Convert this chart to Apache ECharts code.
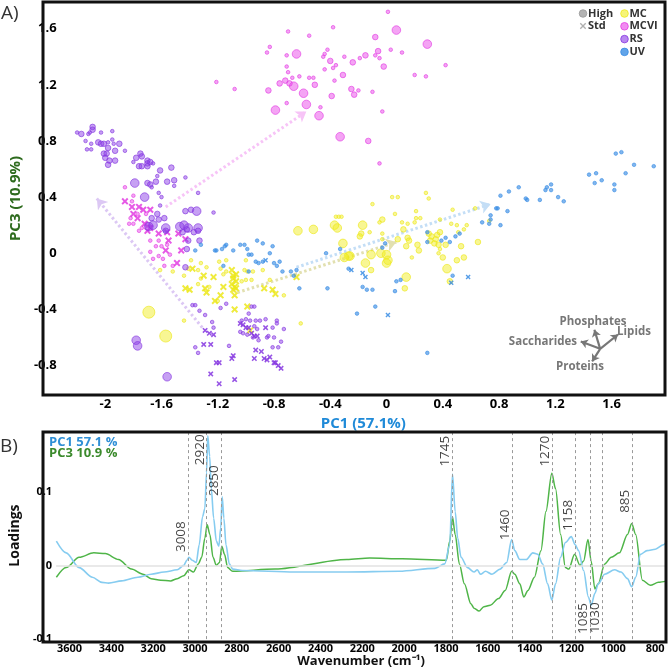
<!DOCTYPE html>
<html>
<head>
<meta charset="utf-8">
<script src="https://cdn.jsdelivr.net/npm/echarts@6/dist/echarts.min.js"></script>
<style>
html, body { margin: 0; padding: 0; background: #ffffff; }
#box { width: 669px; height: 669px; }
</style>
</head>
<body>
<div id="box"></div>
<script>
// ---------- A) PCA scores: [PC1, PC3, size class] ----------
const mcHigh = [[-1.69,-0.42,4],[-1.57,-0.59,4],[-1.44,-0.48,1],[-1.39,-0.05,1],[-1.41,-0.11,1],[-1.34,-0.12,1],[-1.32,-0.07,1],[-1.28,-0.10,1],[-1.44,-0.16,1],[-1.61,-0.12,1],[-1.52,-0.13,1],[-1.32,-0.18,1],[-1.34,-0.22,1],[-1.26,-0.24,1],[-1.19,-0.06,1],[-1.14,-0.05,1],[-1.18,-0.11,1],[-1.00,-0.05,1],[-1.14,-0.13,1],[-1.16,-0.15,1],[-1.01,-0.12,1],[-0.99,-0.13,1],[-0.95,-0.13,1],[-0.88,-0.12,1],[-1.20,-0.34,1],[-1.03,-0.20,1],[-1.00,-0.19,1],[-0.96,-0.19,1],[-0.83,-0.19,1],[-0.73,-0.30,1],[-0.61,-0.50,1],[-0.63,0.16,3],[-0.52,0.17,3],[-0.37,0.20,3],[-0.35,0.18,3],[-0.36,0.26,1],[-0.34,0.26,1],[-0.32,0.26,1],[-0.31,0.07,3],[-0.27,-0.02,3],[-0.17,0.20,3],[-0.18,0.14,2],[-0.19,0.12,2],[-0.26,-0.02,3],[-0.30,-0.03,3],[-0.15,-0.07,3],[-0.11,-0.01,3],[-0.04,0.00,3],[0.00,-0.01,3],[0.01,-0.05,3],[0.00,-0.07,3],[-0.11,-0.12,2],[0.14,-0.17,3],[0.13,-0.25,2],[-0.03,0.24,2],[-0.10,0.35,1],[0.04,0.40,1],[0.08,0.40,1],[0.06,0.28,1],[-0.05,0.22,1],[0.11,0.22,1],[0.15,0.21,1],[0.20,0.22,1],[0.21,0.25,1],[0.12,0.17,2],[-0.12,0.15,1],[-0.03,0.14,1],[-0.03,0.10,1],[0.08,0.10,2],[0.15,0.11,2],[0.16,0.09,2],[0.14,0.05,2],[0.22,0.06,2],[0.23,0.02,2],[0.18,-0.03,1],[0.21,0.30,1],[0.24,0.25,1],[0.28,0.43,1],[0.30,0.39,1],[0.38,0.24,1],[0.30,0.14,2],[0.32,0.12,2],[0.35,0.10,2],[0.36,0.13,2],[0.38,0.15,2],[0.31,0.09,2],[0.34,0.07,2],[0.37,0.06,2],[0.42,0.06,2],[0.38,0.03,1],[0.37,0.00,1],[0.40,-0.03,2],[0.47,0.31,1],[0.46,0.21,1],[0.50,0.20,1],[0.51,0.15,1],[0.55,0.17,1],[0.57,0.20,1],[0.53,0.05,2],[0.55,-0.03,2],[0.50,-0.05,2],[0.43,-0.11,3],[0.45,-0.20,2],[0.65,0.08,2],[0.63,0.32,1],[0.73,0.23,1]];
const mcStd = [[-1.38,-0.11],[-1.30,-0.16],[-1.43,-0.25],[-1.40,-0.26],[-1.29,-0.25],[-1.28,-0.28],[-1.22,-0.34],[-1.10,-0.12],[-1.09,-0.16],[-1.07,-0.15],[-1.09,-0.18],[-1.07,-0.20],[-1.10,-0.22],[-1.23,-0.17],[-1.16,-0.24],[-1.08,-0.24],[-1.07,-0.25],[-1.09,-0.26],[-1.18,-0.30],[-1.08,-0.30],[-0.87,-0.25],[-0.81,-0.26],[-0.79,-0.29],[-0.64,-0.17],[-1.08,-0.40],[-0.99,-0.38],[-0.97,-0.55]];
const mcviHigh = [[0.01,1.72,1],[0.07,1.59,3],[0.29,1.49,3],[-0.70,1.58,1],[-0.55,1.55,1],[-0.38,1.61,1],[-0.08,1.54,2],[-0.83,1.47,1],[-0.85,1.43,1],[-0.64,1.42,3],[-0.71,1.41,1],[-0.44,1.42,1],[-0.45,1.40,1],[-0.42,1.45,1],[-0.30,1.40,1],[-0.15,1.41,2],[-0.06,1.44,2],[0.03,1.45,1],[0.11,1.43,1],[-0.08,1.41,1],[-0.05,1.39,1],[-0.19,1.39,1],[-0.24,1.36,2],[-0.40,1.37,2],[-0.36,1.34,1],[-0.38,1.32,1],[-0.44,1.31,1],[-0.02,1.33,2],[0.42,1.34,1],[0.20,1.27,1],[0.28,1.26,1],[-0.71,1.33,1],[-0.70,1.29,1],[-0.67,1.25,1],[-0.62,1.26,1],[-0.55,1.25,1],[-0.52,1.25,1],[-0.31,1.27,2],[-0.37,1.23,1],[-0.72,1.23,2],[-0.76,1.21,2],[-0.69,1.21,2],[-0.66,1.19,3],[-0.51,1.20,2],[-1.21,1.22,1],[-1.08,1.17,1],[-0.84,1.16,2],[-0.59,1.14,3],[-0.25,1.17,2],[-0.20,1.16,1],[-0.23,1.13,2],[-0.10,1.15,1],[-0.39,1.12,2],[-0.71,1.07,1],[-0.57,1.06,3],[-0.79,1.02,3],[-0.47,1.04,1],[-0.48,0.98,3],[-0.03,1.01,1],[-0.33,0.83,3],[-0.13,0.80,2],[-0.05,0.64,1],[-1.86,0.47,1],[-1.80,0.41,1],[-1.81,0.37,1],[-1.77,0.28,1],[-1.71,0.28,1],[-1.82,0.25,1],[-1.83,0.21,1],[-1.80,0.21,1],[-1.74,0.18,1],[-1.68,0.19,1],[-1.76,0.16,1],[-1.68,0.09,1],[-1.62,0.09,1],[-1.64,0.05,1],[-1.60,0.05,1],[-1.56,0.06,1],[-1.68,0.01,1],[-1.54,-0.01,1],[-1.62,-0.02,1],[-1.66,-0.04,1],[-1.59,-0.04,1],[-1.52,-0.09,1],[-1.58,-0.09,1],[-1.70,0.20,2]];
const mcviStd = [[-1.86,0.37],[-1.81,0.33],[-1.76,0.33],[-1.73,0.31],[-1.68,0.31],[-1.80,0.28],[-1.77,0.25],[-1.72,0.21],[-1.70,0.16],[-1.68,0.18],[-1.62,0.14],[-1.55,0.09],[-1.56,0.15],[-1.48,0.14],[-1.57,0.02],[-1.46,0.02],[-1.43,0.10],[-1.49,-0.07]];
const rsHigh = [[-2.20,0.86,1],[-2.17,0.85,2],[-2.12,0.85,1],[-2.11,0.86,1],[-2.09,0.90,2],[-2.09,0.88,2],[-2.03,0.86,1],[-1.95,0.87,1],[-2.14,0.80,1],[-2.10,0.78,1],[-2.13,0.74,1],[-2.10,0.74,1],[-2.05,0.79,2],[-2.03,0.78,2],[-2.01,0.78,2],[-1.98,0.79,1],[-1.95,0.81,1],[-1.94,0.78,1],[-1.90,0.78,2],[-1.98,0.75,2],[-2.01,0.71,2],[-1.99,0.71,2],[-1.93,0.73,2],[-1.86,0.73,1],[-2.00,0.68,2],[-1.97,0.66,2],[-1.93,0.66,2],[-1.98,0.63,2],[-1.75,0.71,2],[-1.74,0.69,2],[-1.78,0.68,2],[-1.70,0.66,2],[-1.68,0.65,2],[-1.70,0.64,2],[-1.66,0.64,1],[-1.80,0.65,1],[-1.76,0.62,2],[-1.74,0.62,2],[-1.70,0.62,2],[-1.61,0.59,2],[-1.53,0.61,2],[-1.63,0.55,1],[-1.79,0.50,3],[-1.70,0.50,2],[-1.68,0.49,2],[-1.64,0.51,2],[-1.56,0.51,2],[-1.51,0.52,2],[-1.43,0.54,1],[-1.67,0.47,1],[-1.51,0.48,1],[-1.62,0.43,1],[-1.72,0.40,3],[-1.60,0.40,1],[-1.34,0.43,1],[-1.61,0.34,1],[-1.43,0.30,2],[-1.39,0.31,2],[-1.35,0.30,3],[-1.23,0.29,1],[-1.63,0.28,2],[-1.62,0.24,2],[-1.67,0.25,2],[-1.58,0.25,2],[-1.69,0.19,3],[-1.66,0.20,3],[-1.57,0.18,3],[-1.47,0.19,3],[-1.44,0.20,3],[-1.41,0.18,3],[-1.34,0.18,3],[-1.57,0.16,2],[-1.45,0.15,2],[-1.42,0.17,2],[-1.37,0.15,2],[-1.34,0.16,2],[-1.41,0.09,2],[-1.33,0.09,2],[-1.42,0.03,2],[-1.43,-0.10,2],[-1.78,-0.62,3],[-1.77,-0.66,3],[-1.56,-0.88,3],[-1.14,-0.36,1],[-1.18,-0.39,1],[-0.96,-0.38,1],[-0.94,-0.38,1],[-0.98,-0.43,1],[-1.00,-0.47,1],[-1.03,-0.48,1],[-0.97,-0.48,1],[-0.93,-0.48,1],[-0.90,-0.48,1],[-0.86,-0.47,1],[-0.78,-0.48,1],[-0.78,-0.50,1],[-0.94,-0.52,1],[-0.92,-0.54,1],[-0.81,-0.53,1],[-0.73,-0.54,1],[-1.04,-0.56,1],[-1.02,-0.57,1],[-0.99,-0.58,1],[-0.85,-0.60,1],[-0.84,-0.59,1],[-0.80,-0.60,1],[-0.91,-0.62,1],[-0.95,-0.60,1],[-0.75,-0.63,1],[-0.77,-0.67,1],[-1.12,-0.66,1],[-0.81,-0.67,1],[-1.38,-0.37,1],[-1.36,-0.37,1],[-1.33,-0.41,1],[-1.29,-0.44,1],[-1.24,-0.49,1],[-1.23,-0.53,1],[-1.36,-0.67,1],[-1.34,-0.71,1]];
const rsStd = [[-1.04,-0.50],[-1.02,-0.51],[-1.00,-0.53],[-0.98,-0.53],[-0.86,-0.53],[-0.96,-0.57],[-0.94,-0.59],[-0.92,-0.59],[-0.93,-0.69],[-0.89,-0.70],[-1.09,-0.73],[-1.10,-0.75],[-0.94,-0.75],[-0.87,-0.75],[-0.85,-0.76],[-0.83,-0.74],[-0.80,-0.78],[-0.79,-0.78],[-0.77,-0.80],[-0.75,-0.82],[-1.19,-0.78],[-1.08,-0.90],[-1.19,-0.93],[-1.29,-0.55],[-1.26,-0.57],[-1.23,-0.58],[-1.30,-0.65],[-1.25,-0.65],[-1.21,-0.78],[-1.25,-0.86]];
const uvHigh = [[-1.14,0.06,1],[-1.15,0.05,1],[-1.04,0.06,1],[-1.01,0.06,1],[-0.99,0.03,1],[-0.92,0.09,1],[-0.88,0.07,1],[-0.81,0.05,1],[-1.22,0.02,1],[-1.17,0.03,1],[-1.09,0.02,1],[-0.98,-0.01,1],[-0.96,-0.01,1],[-0.83,0.00,1],[-0.93,-0.06,1],[-0.91,-0.07,1],[-0.88,-0.06,1],[-0.80,-0.07,1],[-0.76,-0.06,1],[-0.78,-0.09,1],[-0.74,-0.13,1],[-0.68,-0.13,1],[-0.66,-0.16,1],[-0.62,-0.25,1],[-0.42,-0.25,1],[-0.43,0.00,1],[-0.27,-0.11,1],[-0.98,-0.13,1],[-1.16,-0.09,1],[-1.36,0.02,1],[-1.32,0.06,1],[-1.21,0.02,1],[-0.33,0.03,1],[-0.17,-0.24,1],[-0.14,-0.26,1],[-0.10,-0.26,1],[0.07,-0.20,1],[0.10,-0.19,1],[0.06,-0.27,1],[-0.08,-0.38,1],[-0.21,-0.43,1],[-0.01,0.07,1],[-0.03,0.04,1],[0.29,0.15,1],[0.29,0.08,1],[0.39,0.09,1],[0.42,0.11,1],[0.45,0.08,1],[0.49,0.12,1],[0.52,0.14,1],[0.47,-0.16,1],[0.68,0.22,1],[0.73,0.21,1],[0.74,0.24,1],[0.81,0.20,1],[0.74,0.27,1],[0.79,0.32,1],[0.81,0.41,1],[0.78,0.32,1],[0.86,0.30,1],[0.87,0.44,1],[0.94,0.47,1],[0.99,0.39,1],[1.00,0.38,1],[1.09,0.38,1],[1.13,0.45,1],[1.14,0.47,1],[1.17,0.49,1],[1.17,0.45,1],[1.22,0.40,1],[1.26,0.37,1],[1.44,0.56,1],[1.49,0.57,1],[1.48,0.50,1],[1.53,0.52,1],[1.62,0.49,1],[1.62,0.45,1],[1.70,0.57,1],[1.63,0.71,1],[1.67,0.72,1],[1.76,0.63,1],[1.90,0.62,1],[0.29,-0.71,1],[-0.64,-0.12,1]];
const uvStd = [[-0.86,-0.05],[-0.25,-0.12],[-0.17,-0.14],[-0.15,-0.17],[0.01,-0.44],[0.58,-0.17],[0.46,-0.21]];

// group shift vectors (start -> end), in score units
const vecMC = [[-1.06,-0.28],[0.07,0.08]];
const vecMCVI = [[-1.57,0.33],[-0.57,1.01]];
const vecRS = [[-1.31,-0.53],[-2.06,0.39]];
const vecUV = [[-0.64,-0.10],[0.74,0.35]];

// loading directions of the inset (tail, head)
const bioNames = ["Phosphates", "Lipids", "Saccharides", "Proteins"];
const bioTail = [1.519,-0.681];
const bioHeads = [[1.478,-0.545],[1.646,-0.579],[1.381,-0.629],[1.462,-0.771]];

const pcXTicks = [-2, -1.6, -1.2, -0.8, -0.4, 0, 0.4, 0.8, 1.2, 1.6];
const pcYTicks = [-0.8, -0.4, 0, 0.4, 0.8, 1.2, 1.6];

// ---------- B) loadings ----------
const wn1 = [3639,3592,3530,3467,3421,3389,3327,3249,3186,3124,3061,3030,3015,3005,2990,2970,2956,2940,2929,2921,2915,2906,2898,2887,2874,2862,2853,2846,2838,2828,2812,2796,2750,2500,2250,2000,1829,1782,1758,1745,1732,1720,1704,1673,1642,1626,1611,1587,1556,1517,1486,1462,1447,1423,1392,1361,1337,1314,1290,1270,1252,1228,1205,1177,1158,1142,1118,1095,1082,1064,1048,1017,970,939,908,888,869,846,815,775,736,721];
const pc1 = [0.033,0.017,-0.003,-0.016,-0.023,-0.024,-0.021,-0.016,-0.012,-0.009,-0.006,0.000,0.007,0.011,0.007,0.004,0.028,0.066,0.077,0.126,0.176,0.148,0.104,0.064,0.033,0.026,0.051,0.093,0.064,0.028,0.002,-0.005,-0.007,-0.009,-0.009,-0.008,-0.004,0.002,0.028,0.124,0.073,0.037,0.011,-0.003,-0.009,-0.006,-0.012,-0.008,-0.012,-0.005,0.004,0.035,0.020,0.008,0.008,0.017,0.015,0.002,-0.025,-0.047,-0.025,0.011,0.031,0.039,0.028,0.020,-0.007,-0.043,-0.054,-0.038,-0.025,-0.012,-0.006,-0.009,-0.018,-0.029,-0.016,0.015,0.020,0.022,0.028,0.033];
const wn3 = [3639,3592,3530,3460,3405,3342,3280,3225,3186,3140,3093,3061,3030,3005,2984,2960,2944,2929,2918,2905,2890,2874,2859,2848,2835,2820,2796,2593,2250,2141,1985,1774,1758,1745,1732,1712,1688,1657,1642,1618,1595,1564,1525,1493,1462,1447,1423,1404,1384,1353,1322,1298,1270,1252,1228,1205,1189,1161,1135,1118,1097,1082,1064,1048,1017,986,947,908,888,869,837,799,760,721];
const pc3 = [-0.016,-0.003,0.011,0.017,0.016,0.008,-0.005,-0.012,-0.018,-0.020,-0.021,-0.018,-0.014,-0.006,-0.009,0.002,0.011,0.037,0.055,0.042,0.011,0.000,0.004,0.026,0.015,-0.003,-0.008,-0.005,0.008,0.010,0.009,0.007,0.033,0.066,0.042,0.002,-0.025,-0.052,-0.058,-0.062,-0.056,-0.054,-0.045,-0.034,-0.008,-0.012,-0.025,-0.043,-0.034,-0.016,0.020,0.073,0.125,0.104,0.042,-0.003,-0.005,0.015,0.000,0.006,0.035,0.006,-0.032,-0.025,0.002,0.011,0.017,0.042,0.057,0.042,-0.020,-0.027,-0.023,-0.021];
const peaks = [3008, 2920, 2850, 1745, 1460, 1270, 1158, 1085, 1030, 885];
const wnTicks = [3600,3400,3200,3000,2800,2600,2400,2200,2000,1800,1600,1400,1200,1000,800];
const loadTicks = [-0.1, 0, 0.1];

// ---------- chart ----------
const FONT = '"Open Sans", sans-serif';
const peakLabelY = [0.039, 0.157, 0.115, 0.155, 0.055, 0.155, 0.068, -0.072, -0.071, 0.087];
const dotSize = { 1: 3.6, 2: 5.6, 3: 8.6, 4: 12 };
const crossPath = "path://M2,0 L5,3 L8,0 L10,2 L7,5 L10,8 L8,10 L5,7 L2,10 L0,8 L3,5 L0,2 Z";

const groups = [
	{ name: "MC", c: "#ece81a", fill: "rgba(240,236,30,0.6)", high: mcHigh, std: mcStd, cross: 7, vec: vecMC, vc: "#e2e0b0" },
	{ name: "MCVI", c: "#e23ce2", fill: "rgba(232,70,232,0.62)", high: mcviHigh, std: mcviStd, cross: 7, vec: vecMCVI, vc: "#f7c4f7" },
	{ name: "RS", c: "#8536e0", fill: "rgba(140,62,230,0.62)", high: rsHigh, std: rsStd, cross: 5.5, vec: vecRS, vc: "#dcc8f4" },
	{ name: "UV", c: "#3a8de4", fill: "rgba(58,141,228,0.8)", high: uvHigh, std: uvStd, cross: 5, vec: vecUV, vc: "#c4def6" },
]

let myCharts = echarts.init(document.getElementById("box"))

let series = []
// group vectors under the points
series.push({
	type: "lines",
	coordinateSystem: "cartesian2d",
	xAxisIndex: 0,
	yAxisIndex: 0,
	symbol: ["none", "arrow"],
	symbolSize: 10,
	lineStyle: { type: [2.5, 2.5], width: 3, opacity: 1 },
	data: groups.map((g) => ({ coords: g.vec, lineStyle: { color: g.vc } })),
	z: 1,
})
groups.forEach((g) => {
	series.push({
		name: g.name + " High",
		type: "scatter",
		xAxisIndex: 0,
		yAxisIndex: 0,
		data: g.high,
		symbol: "circle",
		symbolSize: (v) => dotSize[v[2]],
		itemStyle: { color: g.fill, borderColor: g.c, borderWidth: 0.8 },
		z: 3,
	})
	series.push({
		name: g.name + " Std",
		type: "scatter",
		xAxisIndex: 0,
		yAxisIndex: 0,
		data: g.std,
		symbol: crossPath,
		symbolSize: g.cross,
		itemStyle: { color: g.c, opacity: 0.85 },
		z: 3,
	})
})
// loading directions inset
series.push({
	type: "lines",
	coordinateSystem: "cartesian2d",
	xAxisIndex: 0,
	yAxisIndex: 0,
	symbol: ["none", "arrow"],
	symbolSize: 7,
	lineStyle: { color: "#777", width: 2.2, opacity: 1 },
	data: bioHeads.map((h) => ({ coords: [bioTail, h] })),
	z: 4,
})

// B) loadings
series.push({
	name: "PC3",
	type: "line",
	xAxisIndex: 1,
	yAxisIndex: 1,
	data: wn3.map((w, i) => [w, pc3[i]]),
	showSymbol: false,
	smooth: 0.3,
	smoothMonotone: "x",
	lineStyle: { color: "#4fb548", width: 1.5 },
	markLine: {
		silent: true,
		symbol: "none",
		label: { show: false },
		lineStyle: { color: "#e2e2e2", type: "solid", width: 1.5 },
		data: [{ yAxis: 0 }],
	},
	z: 3,
})
series.push({
	name: "PC1",
	type: "line",
	xAxisIndex: 1,
	yAxisIndex: 1,
	data: wn1.map((w, i) => [w, pc1[i]]),
	showSymbol: false,
	smooth: 0.3,
	smoothMonotone: "x",
	lineStyle: { color: "#86ccf0", width: 1.6 },
	markLine: {
		silent: true,
		symbol: "none",
		label: { show: false },
		lineStyle: { color: "#9a9a9a", type: [3, 3], width: 1 },
		data: peaks.map((p) => ({ xAxis: p })),
	},
	z: 4,
})
series.push({
	type: "scatter",
	xAxisIndex: 1,
	yAxisIndex: 1,
	symbolSize: 0,
	data: peaks.map((p, i) => [p, peakLabelY[i], String(p)]),
	label: {
		show: true,
		position: "inside",
		rotate: 90,
		offset: [0, -7],
		formatter: (p) => p.value[2],
		color: "#111",
		fontSize: 13.5,
		fontFamily: "Open Sans",
	},
	silent: true,
	z: 5,
})

const tickFont = { color: "#000", fontWeight: 700, fontFamily: FONT }
const plain = (v) => String(v)

// top-right legend built from shapes and texts
function cross(cx, cy, r, fill) {
	const t = r * 0.3
	return {
		type: "polygon",
		shape: {
			points: [
				[cx - r, cy - r + t], [cx - r + t, cy - r], [cx, cy - t], [cx + r - t, cy - r], [cx + r, cy - r + t], [cx + t, cy],
				[cx + r, cy + r - t], [cx + r - t, cy + r], [cx, cy + t], [cx - r + t, cy + r], [cx - r, cy + r - t], [cx - t, cy],
			],
		},
		style: { fill: fill },
	}
}
const legFont = "bold 11px " + FONT
let graphic = [
	{ type: "circle", shape: { cx: 583, cy: 13.5, r: 3.8 }, style: { fill: "#b4b4b4", stroke: "#999", lineWidth: 0.8 } },
	{ type: "text", x: 588, y: 13.5, style: { text: "High", font: legFont, fill: "#333", verticalAlign: "middle" } },
	cross(583, 26, 3.2, "#b0b0b0"),
	{ type: "text", x: 588, y: 26, style: { text: "Std", font: legFont, fill: "#333", verticalAlign: "middle" } },
]
groups.forEach((g, i) => {
	const y = 13.5 + i * 12.8
	graphic.push({ type: "circle", shape: { cx: 624.5, cy: y, r: 3.8 }, style: { fill: g.fill, stroke: g.c, lineWidth: 0.8 } })
	graphic.push({ type: "text", x: 629.5, y: y, style: { text: g.name, font: legFont, fill: "#333", verticalAlign: "middle" } })
})
const bioFont = "bold 11.5px " + FONT
graphic.push(
	{ type: "text", x: 593, y: 322, style: { text: bioNames[0], font: bioFont, fill: "#777", align: "center", verticalAlign: "middle" } },
	{ type: "text", x: 634, y: 332, style: { text: bioNames[1], font: bioFont, fill: "#777", align: "center", verticalAlign: "middle" } },
	{ type: "text", x: 577, y: 342, style: { text: bioNames[2], font: bioFont, fill: "#777", align: "right", verticalAlign: "middle" } },
	{ type: "text", x: 580, y: 367, style: { text: bioNames[3], font: bioFont, fill: "#777", align: "center", verticalAlign: "middle" } },
	{ type: "text", x: 1, y: 14, style: { text: "A)", font: "19px Open Sans", fill: "#333", verticalAlign: "middle" } },
	{ type: "text", x: 0, y: 447, style: { text: "B)", font: "19px Open Sans", fill: "#333", verticalAlign: "middle" } },
	{ type: "text", x: 49, y: 442, style: { text: "PC1 57.1 %", font: "bold 13px " + FONT, fill: "#2f8fd6", verticalAlign: "middle" } },
	{ type: "text", x: 49, y: 453, style: { text: "PC3 10.9 %", font: "bold 13px " + FONT, fill: "#3b8a2c", verticalAlign: "middle" } },
	// panel frames
	{ type: "rect", z: 100, shape: { x: 43, y: 2, width: 622, height: 393 }, style: { fill: null, stroke: "#111", lineWidth: 3 } },
	{ type: "rect", z: 100, shape: { x: 43, y: 432, width: 623, height: 210 }, style: { fill: null, stroke: "#111", lineWidth: 3 } }
)

let option = {
	animation: false,
	textStyle: { fontFamily: FONT },
	grid: [
		{ left: 43, right: 4, top: 2, bottom: 274 },
		{ left: 43, right: 3, top: 432, bottom: 27 },
	],
	xAxis: [
		{
			type: "value",
			gridIndex: 0,
			min: -2.31,
			max: 1.98,
			axisLine: { show: false },
			axisTick: { show: false },
			splitLine: { show: false },
			axisLabel: { ...tickFont, fontSize: 13, margin: 3, customValues: pcXTicks, formatter: plain },
			name: "PC1 (57.1%)",
			nameLocation: "middle",
			nameGap: 13,
			nameTextStyle: { color: "#1f8ad8", fontWeight: "bold", fontSize: 15, fontFamily: FONT },
		},
		{
			type: "value",
			gridIndex: 1,
			min: 724,
			max: 3640,
			inverse: true,
			axisLine: { show: false },
			axisTick: { show: false },
			splitLine: { show: false },
			axisLabel: { ...tickFont, fontSize: 11, margin: 4, padding: [0, 0, 0, 10], customValues: wnTicks, formatter: plain },
			name: "Wavenumber (cm⁻¹)",
			nameLocation: "middle",
			nameGap: 15,
			nameTextStyle: { color: "#111", fontWeight: "bold", fontSize: 13, fontFamily: FONT },
		},
	],
	yAxis: [
		{
			type: "value",
			gridIndex: 0,
			min: -1.01,
			max: 1.79,
			axisLine: { show: false },
			axisTick: { show: false },
			splitLine: { show: false },
			axisLabel: { ...tickFont, fontSize: 13, margin: 5, customValues: pcYTicks, formatter: plain },
			name: "PC3 (10.9%)",
			nameLocation: "middle",
			nameGap: 27,
			nameTextStyle: { color: "#2e6b1e", fontWeight: "bold", fontSize: 15, fontFamily: FONT },
		},
		{
			type: "value",
			gridIndex: 1,
			min: -0.1,
			max: 0.181,
			axisLine: { show: false },
			axisTick: { show: false },
			splitLine: { show: false },
			axisLabel: { ...tickFont, fontSize: 11, margin: 4, customValues: loadTicks, formatter: plain },
			name: "Loadings",
			nameLocation: "middle",
			nameGap: 18,
			nameTextStyle: { color: "#111", fontWeight: "bold", fontSize: 14, fontFamily: FONT },
		},
	],
	series: series,
	graphic: graphic,
}
myCharts.setOption(option)
</script>
</body>
</html>
